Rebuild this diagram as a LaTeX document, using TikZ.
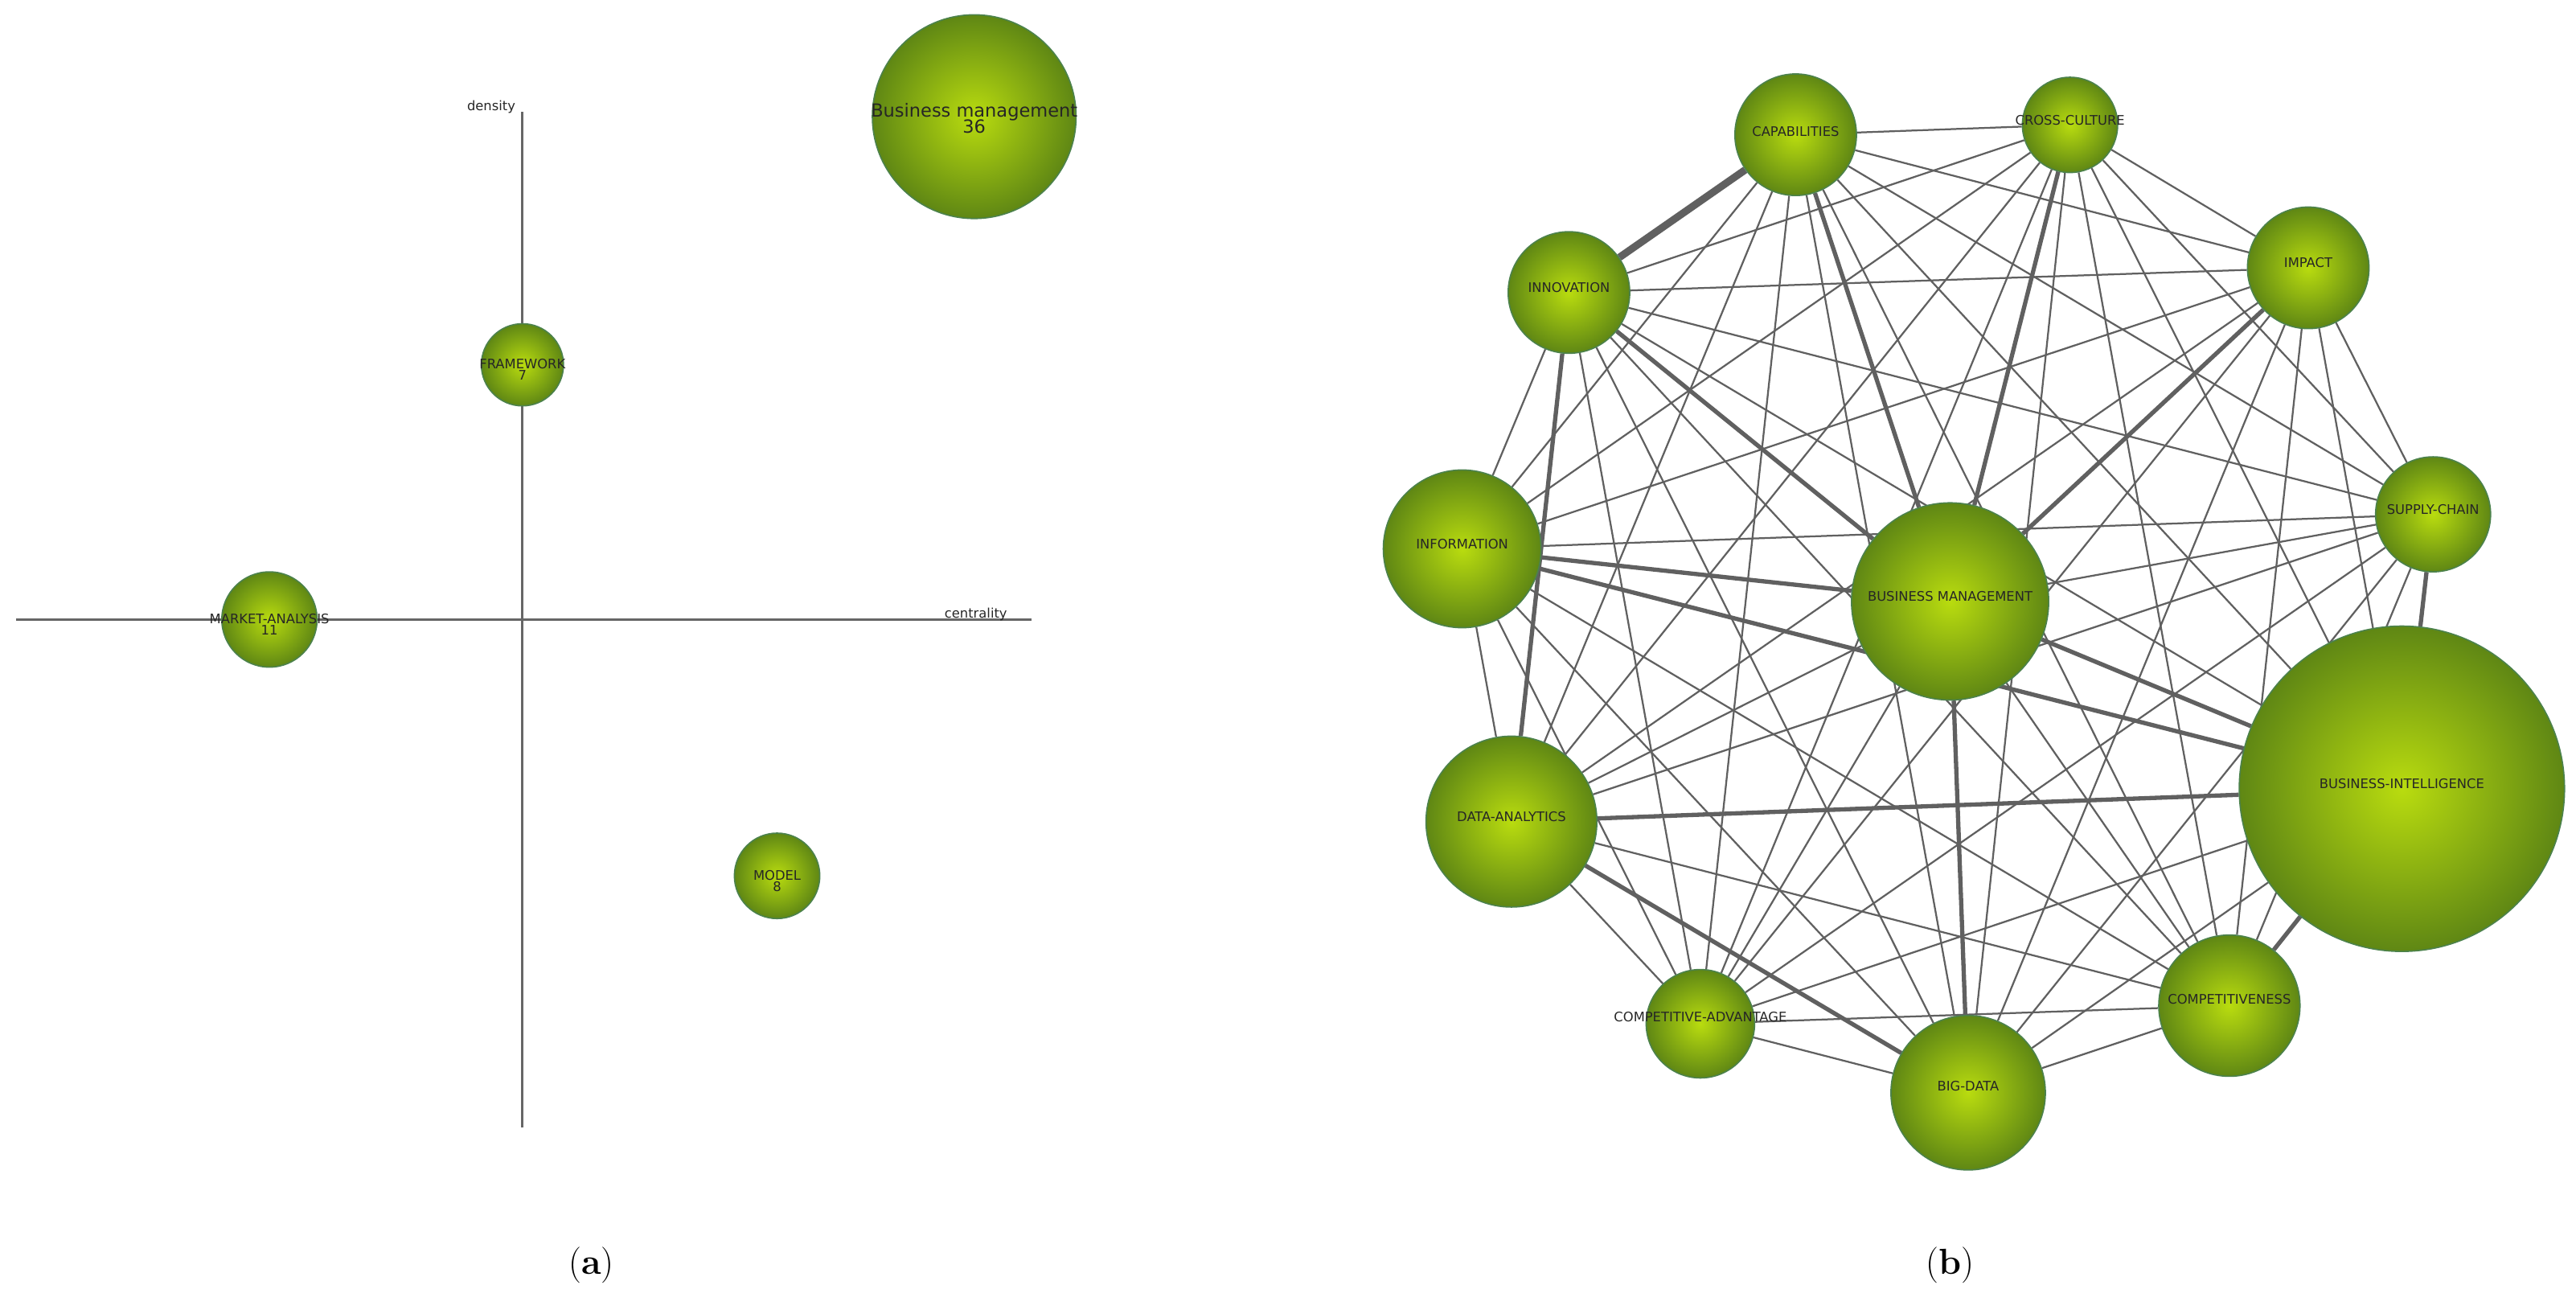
\documentclass[tikz,border=0pt]{standalone}
\usepackage{fontspec}
\newfontfamily\lab{DejaVu Sans}
\usetikzlibrary{backgrounds}
\begin{document}
\begin{tikzpicture}[x=1pt,y=-1pt,
  bub/.style={circle,inner sep=0pt,minimum size=#1,draw=green!30!black!70,line width=0.8pt,inner color={rgb,255:red,185;green,220;blue,15},outer color={rgb,255:red,95;green,135;blue,20}},
  lbl/.style={font=\lab\fontsize{8}{9}\selectfont,text=black!85,align=center},
  ax/.style={draw=gray!80!black,line width=1.3pt},
  ed/.style={draw=gray!75!black,line width=#1},
  ed/.default=1pt]
\useasboundingbox (0,0) rectangle (1568,797);
% panel (a)
\coordinate (vt) at (318,68); \coordinate (vb) at (318,686);
\coordinate (hl) at (10,377); \coordinate (hr) at (628,377);
\draw[ax] (vt) -- (vb); \draw[ax] (hl) -- (hr);
\node[lbl] (den) at (299,65) {density};
\node[lbl] (cen) at (594,374) {centrality};
\node[bub=124pt] (bm36) at (593,71) {};
\node[lbl,font=\lab\fontsize{11}{12}\selectfont] (bm36t) at (593,72) {B\textsc{usiness management}\\[-2pt]36};
\node[bub=50pt] (fw) at (318,222) {};
\node[lbl] (fwt) at (318,225) {FRAMEWORK\\[-2pt]7};
\node[bub=58pt] (ma) at (164,377) {};
\node[lbl] (mat) at (164,380) {MARKET-ANALYSIS\\[-2pt]11};
\node[bub=52pt] (mo) at (473,533) {};
\node[lbl] (mot) at (473,536) {MODEL\\[-2pt]8};
% panel (b)
\foreach \n/\x/\y/\r in {CAP/1093/82/74, CRO/1260/76/58, IMP/1405/163/74, INN/955/178/74,
  SUP/1481/313/70, INF/890/334/96, BM/1187/366/120, BI/1462/480/198, DA/920/500/104,
  CV/1357/612/86, CA/1035/623/66, BD/1198/665/94}
  \node[bub=\r pt] (\n) at (\x,\y) {};
\begin{scope}[on background layer]
\foreach \a/\b in {CAP/CRO,CAP/IMP,CAP/SUP,CAP/INF,CAP/BM,CAP/BI,CAP/DA,CAP/CV,CAP/CA,CAP/BD,
 CRO/IMP,CRO/INN,CRO/SUP,CRO/INF,CRO/BM,CRO/BI,CRO/DA,CRO/CV,CRO/CA,CRO/BD,
 IMP/INN,IMP/SUP,IMP/INF,IMP/BM,IMP/BI,IMP/DA,IMP/CV,IMP/CA,IMP/BD,
 INN/SUP,INN/INF,INN/BM,INN/BI,INN/DA,INN/CV,INN/CA,INN/BD,
 SUP/INF,SUP/BM,SUP/BI,SUP/DA,SUP/CV,SUP/CA,SUP/BD,
 INF/BM,INF/BI,INF/DA,INF/CV,INF/CA,INF/BD,
 BM/BI,BM/DA,BM/CV,BM/CA,BM/BD,
 BI/DA,BI/CV,BI/CA,BI/BD,
 DA/CV,DA/CA,DA/BD, CV/CA,CV/BD, CA/BD}
  \draw[ed=1.1pt] (\a) -- (\b);
\draw[ed=4.5pt] (CAP) -- (INN);
\foreach \a/\b in {CAP/BM,INN/BM,INF/BM,BM/BI,DA/BI,DA/BD,BM/BD,CRO/BM,IMP/BM,BI/CV,BI/SUP,INN/DA,INF/BI}
  \draw[ed=2.6pt] (\a) -- (\b);
\end{scope}
\node[lbl] at (1093,80) {CAPABILITIES};
\node[lbl] at (1260,73) {CROSS-CULTURE};
\node[lbl] at (1405,160) {IMPACT};
\node[lbl] at (955,175) {INNOVATION};
\node[lbl] at (1481,310) {SUPPLY-CHAIN};
\node[lbl] at (890,331) {INFORMATION};
\node[lbl] at (1187,363) {BUSINESS MANAGEMENT};
\node[lbl] at (1462,477) {BUSINESS-INTELLIGENCE};
\node[lbl] at (920,497) {DATA-ANALYTICS};
\node[lbl] at (1357,608) {COMPETITIVENESS};
\node[lbl] at (1035,619) {COMPETITIVE-ADVANTAGE};
\node[lbl] at (1198,661) {BIG-DATA};
\node[font=\fontsize{22}{24}\selectfont] (capa) at (360,770) {(\textbf{a})};
\node[font=\fontsize{22}{24}\selectfont] (capb) at (1187,770) {(\textbf{b})};
\end{tikzpicture}
\end{document}
